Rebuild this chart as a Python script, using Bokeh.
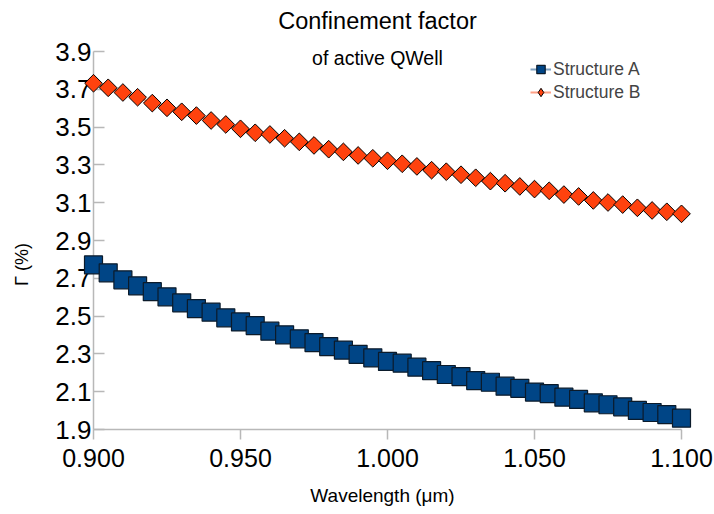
import numpy as np
from bokeh.plotting import figure
from bokeh.models import Range1d, FixedTicker, NumeralTickFormatter, Legend, LegendItem
from bokeh.embed import file_html
from bokeh.resources import INLINE
from bokeh.core.properties import value

wavelength = [0.900, 0.905, 0.910, 0.915, 0.920, 0.925, 0.930, 0.935, 0.940, 0.945,
              0.950, 0.955, 0.960, 0.965, 0.970, 0.975, 0.980, 0.985, 0.990, 0.995,
              1.000, 1.005, 1.010, 1.015, 1.020, 1.025, 1.030, 1.035, 1.040, 1.045,
              1.050, 1.055, 1.060, 1.065, 1.070, 1.075, 1.080, 1.085, 1.090, 1.095, 1.100]

structure_a = [2.771, 2.729, 2.692, 2.660, 2.629, 2.602, 2.570, 2.540, 2.521, 2.491,
               2.469, 2.450, 2.420, 2.401, 2.380, 2.360, 2.339, 2.320, 2.298, 2.279,
               2.260, 2.251, 2.230, 2.211, 2.191, 2.180, 2.159, 2.150, 2.129, 2.118,
               2.098, 2.090, 2.071, 2.059, 2.041, 2.031, 2.020, 2.001, 1.990, 1.979, 1.960]

structure_b = [3.732, 3.708, 3.683, 3.658, 3.627, 3.602, 3.581, 3.561, 3.535, 3.514,
               3.491, 3.470, 3.461, 3.441, 3.422, 3.403, 3.383, 3.369, 3.350, 3.335,
               3.322, 3.306, 3.292, 3.272, 3.264, 3.248, 3.232, 3.214, 3.203, 3.186,
               3.172, 3.163, 3.143, 3.133, 3.112, 3.101, 3.090, 3.073, 3.059, 3.052, 3.041]

x_ticks = [0.900, 0.950, 1.000, 1.050, 1.100]
y_ticks = [1.9, 2.1, 2.3, 2.5, 2.7, 2.9, 3.1, 3.3, 3.5, 3.7, 3.9]

title_text = "Confinement factor"
subtitle_text = "of active QWell"
x_label = "Wavelength (μm)"
y_label = "Γ (%)"
series_names = ["Structure A", "Structure B"]

FONT = "Liberation Sans"
AXIS_GRAY = "#b8b8b8"
BLUE = "#004586"
ORANGE = "#ff420e"

x0, x1 = x_ticks[0], x_ticks[-1]
y0, y1 = y_ticks[0], y_ticks[-1]

p = figure(width=714, height=514, output_backend="svg", toolbar_location=None,
           x_range=Range1d(x0, x1), y_range=Range1d(y0, y1),
           min_border_left=93, min_border_right=33, min_border_top=51, min_border_bottom=85)
p.outline_line_color = None
p.xgrid.visible = False
p.ygrid.visible = False
p.background_fill_color = "white"
p.border_fill_color = "white"

# axes
p.xaxis.ticker = FixedTicker(ticks=x_ticks)
p.xaxis.formatter = NumeralTickFormatter(format="0.000")
p.yaxis.ticker = FixedTicker(ticks=y_ticks)
p.yaxis.formatter = NumeralTickFormatter(format="0.0")
for ax in (p.xaxis, p.yaxis):
    ax.axis_line_color = AXIS_GRAY
    ax.axis_line_width = 1.5
    ax.major_tick_line_color = AXIS_GRAY
    ax.major_tick_line_width = 1.5
    ax.minor_tick_line_color = None
    ax.major_label_text_font = FONT
    ax.major_label_text_color = "black"
p.xaxis.major_tick_in = 0
p.xaxis.major_tick_out = 10
p.xaxis.major_label_standoff = 9
p.xaxis.major_label_text_font_size = "25px"
p.yaxis.major_tick_in = 11
p.yaxis.major_tick_out = 0
p.yaxis.major_label_standoff = 2
p.yaxis.major_label_text_font_size = "26px"

# series
line_a = p.line(wavelength, structure_a, line_color=BLUE, line_alpha=0.5, line_width=2)
line_b = p.line(wavelength, structure_b, line_color=ORANGE, line_alpha=0.5, line_width=2)
sc_b = p.scatter(wavelength, structure_b, marker="square", angle=np.pi / 4, size=12.5,
                 fill_color=ORANGE, line_color="black", line_width=1)
sc_a = p.scatter(wavelength, structure_a, marker="square", size=18,
                 fill_color=BLUE, line_color="#0b1b2b", line_width=1.2)
sc_a.level = "overlay"
sc_b.level = "overlay"
# legend swatch for the diamond series (legend ignores marker angle)
key_b = p.scatter(x=[np.nan], y=[np.nan], marker="diamond", size=12,
                  fill_color=ORANGE, line_color="black", line_width=1)

legend = Legend(items=[LegendItem(label=series_names[0], renderers=[line_a, sc_a]),
                       LegendItem(label=series_names[1], renderers=[line_b, key_b])],
                location=(437, 326), padding=0, spacing=1, glyph_width=21, glyph_height=22,
                label_standoff=2, label_text_font=FONT, label_text_font_size="17.5px",
                border_line_color=None, background_fill_alpha=0)
p.add_layout(legend)

# texts, anchored at the frame corners and shifted in pixels
def add_text(txt, ax, ay, dx, dy, size, angle=0.0):
    r = p.text(x=[ax], y=[ay], text=[txt], x_offset=dx, y_offset=dy, angle=angle,
               text_font=value(FONT), text_font_size=size, text_color="black",
               text_align="center", text_baseline="middle")
    r.level = "overlay"
    return r

add_text(title_text, x0, y1, 284, -31, "23.5px")
add_text(subtitle_text, x0, y1, 284, 6, "19.5px")
add_text(x_label, x0, y0, 289, 66, "19px")
add_text(y_label, x0, y0, -72, -165, "18px", angle=np.pi / 2)

open("out.html", "w").write(file_html(p, INLINE))
